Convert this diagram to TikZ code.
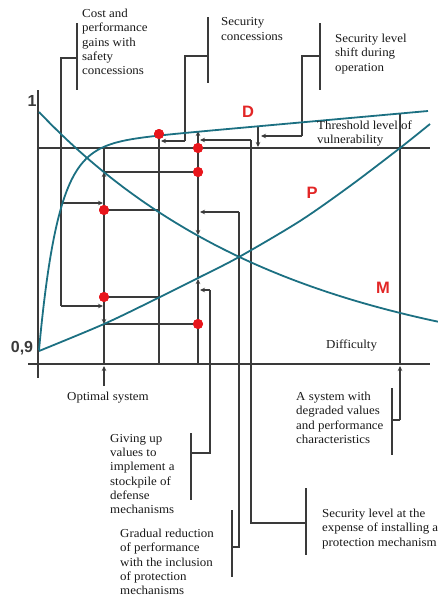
\documentclass[tikz,border=0pt]{standalone}
\usepackage{fontspec}
\setmainfont{Liberation Serif}[FakeStretch=1.06]
\newfontfamily\lsans{Liberation Sans}
\usetikzlibrary{arrows.meta}
\definecolor{crvcol}{RGB}{28,112,130}
\definecolor{lncol}{RGB}{58,58,58}
\definecolor{dotred}{RGB}{232,22,28}
\definecolor{letred}{RGB}{226,38,38}
\definecolor{txtcol}{RGB}{25,25,25}
\tikzset{
  gline/.style={draw=lncol, line width=1.7pt},
  garr/.style={gline, -{Stealth[length=5pt,width=4.5pt]}},
  crv/.style={draw=crvcol, line width=1.8pt},
  rdot/.style={circle, fill=dotred, minimum size=10pt, inner sep=0pt},
  lbl/.style={anchor=north west, align=left, inner sep=0pt, text=txtcol,
    font=\fontsize{12.2}{14.3}\selectfont},
  numlbl/.style={text=lncol, inner sep=0pt, font=\lsans\bfseries\fontsize{16}{16}\selectfont},
  letlbl/.style={text=letred, inner sep=0pt, font=\lsans\bfseries\fontsize{16.5}{16.5}\selectfont}
}
\begin{document}
\begin{tikzpicture}[x=1pt,y=-1pt]
\useasboundingbox (0,0) rectangle (438,597);

% ---------- coordinates ----------
\coordinate (yT) at (38,90);   \coordinate (yB) at (38,378);
\coordinate (xL) at (28,364);  \coordinate (xR) at (430,364);
\coordinate (thL) at (38,148); \coordinate (thR) at (430,148);

% bracket A (cost)
\coordinate (bAt) at (77,23); \coordinate (bAb) at (77,90); \coordinate (bAm) at (77,58);
\coordinate (a0) at (61,58); \coordinate (aD) at (61,203); \coordinate (aB) at (61,306);
\coordinate (oD) at (103,203); \coordinate (oB) at (103,306);

% x = 104
\coordinate (o0) at (104,148); \coordinate (oM) at (104,172);
\coordinate (oP) at (104,324); \coordinate (oX) at (104,364); \coordinate (oArr) at (104,386);
\coordinate (oXa) at (104,366);

% x = 158
\coordinate (cM) at (158,211); \coordinate (cP) at (158,298); \coordinate (cX) at (159,364);

% bracket B (security concessions)
\coordinate (bBt) at (208,17); \coordinate (bBb) at (208,83); \coordinate (bBm) at (208,56);
\coordinate (b1) at (185,56); \coordinate (b2) at (185,141); \coordinate (b3) at (161,141);

% x = 198
\coordinate (sD) at (198,131); \coordinate (sM) at (198,235);
\coordinate (sP) at (198,279); \coordinate (sX) at (198,364);

% right-hand feeders
\coordinate (g1) at (210,290); \coordinate (g1e) at (200,290); \coordinate (g2) at (210,453); \coordinate (g3) at (191,453);
\coordinate (gBt) at (191,433); \coordinate (gBb) at (191,500);
\coordinate (h1) at (239,212); \coordinate (h1e) at (200,212); \coordinate (h2) at (239,547); \coordinate (h3) at (232,547);
\coordinate (hBt) at (232,510); \coordinate (hBb) at (232,577);
\coordinate (k1) at (251,140); \coordinate (k1e) at (200,140); \coordinate (k2) at (251,523); \coordinate (k3) at (306,523);
\coordinate (kBt) at (306,488); \coordinate (kBb) at (306,555);

% bracket C (shift)
\coordinate (bCt) at (320,23); \coordinate (bCb) at (320,90); \coordinate (bCm) at (320,56);
\coordinate (c1) at (302,56); \coordinate (c2) at (302,136); \coordinate (c3) at (261,136);
\coordinate (dS) at (258,126); \coordinate (dE) at (258,147);

% x = 400
\coordinate (wT) at (400,113); \coordinate (wX) at (400,364); \coordinate (wXa) at (400,366);
\coordinate (w1) at (400,420); \coordinate (w2) at (392,420);
\coordinate (wBt) at (392,388); \coordinate (wBb) at (392,455);

% ---------- red dots ----------
\node[rdot] (r1) at (104,210) {};
\node[rdot] (r2) at (104,297) {};
\node[rdot] (s0) at (198,148) {};
\node[rdot] (s1) at (198,172) {};
\node[rdot] (s3) at (198,324) {};
\node[rdot] (c0) at (159,134) {};

% ---------- axes and threshold ----------
\draw[gline] (yT) -- (yB);
\draw[gline] (xL) -- (xR);
\draw[gline] (thL) -- (thR);

% ---------- bracket A ----------
\draw[gline] (bAt) -- (bAb);
\draw[gline] (bAm) -- (a0) -- (aB);
\draw[garr] (aD) -- (oD);
\draw[garr] (aB) -- (oB);

% ---------- x = 104 ----------
\draw[gline] (o0) -- (oM);
\draw[garr] (r1.center) -- (oM);
\draw[gline] (r1.center) -- (r2.center);
\draw[garr] (r2.center) -- (oP);
\draw[gline] (oP) -- (oX);
\draw[garr] (oArr) -- (oXa);
\draw[gline] (oM) -- (s1.center);
\draw[gline] (oP) -- (s3.center);
\draw[gline] (r1.center) -- (r1.center -| cM);
\draw[gline] (r2.center) -- (r2.center -| cP);

% ---------- x = 158 ----------
\draw[gline] (c0.center) -- (cX);

% ---------- bracket B ----------
\draw[gline] (bBt) -- (bBb);
\draw[gline] (bBm) -- (b1) -- (b2);
\draw[garr] (b2) -- (b3);

% ---------- x = 198 ----------
\draw[garr] (s0.center) -- (sD);
\draw[gline] (s0.center) -- (s1.center);
\draw[garr] (s1.center) -- (sM);
\draw[gline] (sM) -- (sP);
\draw[garr] (s3.center) -- (sP);
\draw[gline] (s3.center) -- (sX);

% ---------- right-hand feeders ----------
\draw[gline] (gBt) -- (gBb);
\draw[gline] (g3) -- (g2) -- (g1);
\draw[garr] (g1) -- (g1e);
\draw[gline] (hBt) -- (hBb);
\draw[gline] (h3) -- (h2) -- (h1);
\draw[garr] (h1) -- (h1e);
\draw[gline] (kBt) -- (kBb);
\draw[gline] (k3) -- (k2) -- (k1);
\draw[garr] (k1) -- (k1e);

% ---------- bracket C ----------
\draw[gline] (bCt) -- (bCb);
\draw[gline] (bCm) -- (c1) -- (c2);
\draw[garr] (c2) -- (c3);
\draw[garr] (dS) -- (dE);

% ---------- x = 400 ----------
\draw[gline] (wT) -- (wX);
\draw[garr] (w1) -- (wXa);
\draw[gline] (w1) -- (w2);
\draw[gline] (wBt) -- (wBb);

% ---------- curves ----------
\draw[crv] plot[domain=39:428, samples=200, smooth] (\x, {350-204*(1-exp(-(\x-39)/19))-0.09*(\x-39)});
\draw[crv] plot[domain=39:438, samples=120, smooth] (\x, {112+263*(1-exp(-(\x-39)/250))});
\draw[crv] plot[smooth] coordinates {(39,351) (104,324) (158,298) (198,278) (239,257) (300,221) (350,186) (400,148) (430,124)};

% redraw dots on top
\foreach \n in {r1,r2,s0,s1,s3,c0} \fill[dotred] (\n) circle (5pt);

% ---------- labels ----------
\node[numlbl] (n1) at (32,101) {1};
\node[numlbl] (n09) at (22,348) {0,9};
\node[letlbl] (lD) at (248,112) {D};
\node[letlbl] (lP) at (312,193) {P};
\node[letlbl] (lM) at (383,288) {M};

\node[lbl] (tcost) at (82,9) {Cost and\\performance\\gains with\\safety\\concessions};
\node[lbl] (tsec) at (221,17.5) {Security\\concessions};
\node[lbl] (tshift) at (335,34) {Security level\\shift during\\operation};
\node[lbl, font=\fontsize{12.2}{14}\selectfont] (tthr) at (317,121) {Threshold level of\\vulnerability};
\node[lbl] (tdiff) at (326,340) {Difficulty};
\node[lbl] (topt) at (67,392) {Optimal system};
\node[lbl] (tdeg) at (296,392) {A system with\\degraded values\\and performance\\characteristics};
\node[lbl] (texp) at (322,509) {Security level at the\\expense of installing a\\protection mechanism};
\node[lbl] (tgiv) at (110,434) {Giving up\\values to\\implement a\\stockpile of\\defense\\mechanisms};
\node[lbl] (tgrad) at (120,529) {Gradual reduction\\of performance\\with the inclusion\\of protection\\mechanisms};
\end{tikzpicture}
\end{document}
